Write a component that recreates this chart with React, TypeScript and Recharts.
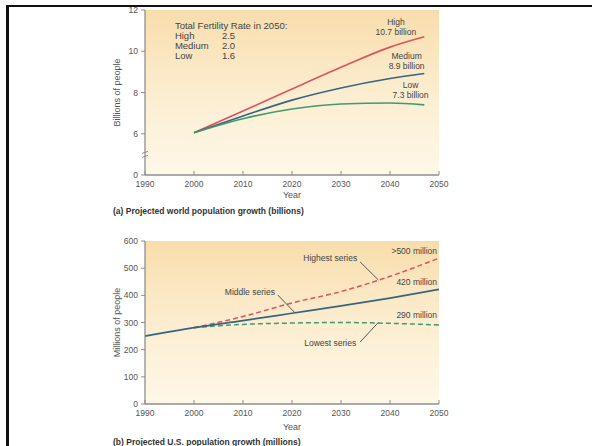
import React from 'react';
import { LineChart, Line, XAxis, YAxis, CartesianGrid, ReferenceDot, ReferenceLine } from 'recharts';

// ---- (a) World population (billions) ----
const worldYears = [2000, 2010, 2020, 2030, 2040, 2047];
const worldHigh = [6.05, 7.1, 8.17, 9.22, 10.2, 10.7];
const worldMedium = [6.05, 6.86, 7.63, 8.22, 8.68, 8.92];
const worldLow = [6.05, 6.73, 7.2, 7.44, 7.49, 7.4];
const worldYTicks = [4, 6, 8, 10, 12];
const worldYTickLabels = ['0', '6', '8', '10', '12'];

// ---- (b) U.S. population (millions) ----
const usYears = [1990, 2000, 2010, 2020, 2030, 2040, 2050];
const usMiddle = [250, 281, 307, 334, 361, 390, 422];
const usHighest = [null, 281, 322, 372, 414, 470, 537];
const usLowest = [null, 281, 293, 298, 300, 297, 291];
const usYTicks = [0, 100, 200, 300, 400, 500, 600];

const xTicks = [1990, 2000, 2010, 2020, 2030, 2040, 2050];

const worldData = worldYears.map((year, i) => ({
  year,
  high: worldHigh[i],
  medium: worldMedium[i],
  low: worldLow[i],
}));
const usData = usYears.map((year, i) => ({
  year,
  middle: usMiddle[i],
  highest: usHighest[i],
  lowest: usLowest[i],
}));

const FONT = '"Liberation Sans", Arial, sans-serif';
const AXIS = '#8f8f8f';
const TXT = '#444';

const RED = '#e0525c';
const BLUE = '#36667f';
const GREEN = '#3f9a72';

const XTick = (props: any) => {
  const { x, y, payload } = props;
  return (
    <g>
      <line x1={x} x2={x} y1={y} y2={y - 4} stroke={AXIS} strokeWidth={1} />
      <text x={x} y={y + 12} textAnchor="middle" fontSize={8.5} fill="#555" fontFamily={FONT}>
        {payload.value}
      </text>
    </g>
  );
};

const yTitle = (title: string) => (p: any) => {
  const vb = p.viewBox;
  const cx = vb.x + 3;
  const cy = vb.y + vb.height / 2;
  return (
    <text
      x={cx}
      y={cy}
      transform={`rotate(-90 ${cx} ${cy})`}
      textAnchor="middle"
      dominantBaseline="middle"
      fontSize={9}
      fill="#555"
      fontFamily={FONT}
    >
      {title}
    </text>
  );
};

const textShape = (lines: string[], anchor: 'start' | 'middle' | 'end', size = 8.5, lh = 10) => (p: any) => (
  <text x={p.cx} y={p.cy} textAnchor={anchor} dominantBaseline="middle" fontSize={size} fill={TXT} fontFamily={FONT}>
    {lines.map((l, i) => (
      <tspan key={i} x={p.cx} dy={i === 0 ? 0 : lh}>
        {l}
      </tspan>
    ))}
  </text>
);

const fertilityShape = (p: any) => {
  const rows = [
    ['High', '2.5'],
    ['Medium', '2.0'],
    ['Low', '1.6'],
  ];
  return (
    <g fontSize={9.5} fill={TXT} fontFamily={FONT}>
      <text x={p.cx} y={p.cy} dominantBaseline="middle">Total Fertility Rate in 2050:</text>
      {rows.map((r, i) => (
        <g key={i}>
          <text x={p.cx} y={p.cy + 10 * (i + 1)} dominantBaseline="middle">{r[0]}</text>
          <text x={p.cx + 47} y={p.cy + 10 * (i + 1)} dominantBaseline="middle">{r[1]}</text>
        </g>
      ))}
    </g>
  );
};

const breakShape = (p: any) => (
  <g stroke={AXIS} strokeWidth={1}>
    <line x1={p.cx - 3} y1={p.cy - 1} x2={p.cx + 3} y2={p.cy - 3} />
    <line x1={p.cx - 3} y1={p.cy + 3} x2={p.cx + 3} y2={p.cy + 1} />
  </g>
);

const Gradient = ({ id }: { id: string }) => (
  <defs>
    <linearGradient id={id} x1="0" y1="0" x2="0" y2="1">
      <stop offset="0%" stopColor="#f8ddac" />
      <stop offset="50%" stopColor="#fcedd0" />
      <stop offset="100%" stopColor="#fef8e8" />
    </linearGradient>
  </defs>
);

export default function App() {
  return (
    <div style={{ position: 'absolute', left: 0, top: 0, width: 592, height: 446, background: '#fff', overflow: 'hidden' }}>
      <div
        style={{
          position: 'absolute',
          left: 6,
          top: 5,
          width: 600,
          height: 460,
          borderTop: '2px solid #111',
          borderLeft: '3px solid #111',
          boxSizing: 'border-box',
        }}
      />
      {/* (a) world */}
      <div style={{ position: 'absolute', left: 0, top: 0 }}>
        <LineChart width={592} height={220} data={worldData} margin={{ top: 10, right: 153, left: 115, bottom: 15 }}>
          <Gradient id="bgA" />
          <CartesianGrid horizontal={false} vertical={false} fill="url(#bgA)" />
          <XAxis
            dataKey="year"
            type="number"
            domain={[1990, 2050]}
            ticks={xTicks}
            height={30}
            tickSize={0}
            tickMargin={0}
            tickLine={false}
            tick={<XTick />}
            axisLine={{ stroke: AXIS, strokeWidth: 1.3 }}
            label={{ value: 'Year', position: 'insideBottom', offset: 7, fontSize: 9, fill: '#555', fontFamily: FONT }}
          />
          <YAxis
            type="number"
            domain={[4, 12]}
            ticks={worldYTicks}
            width={30}
            tickSize={4}
            tickMargin={3}
            tickFormatter={(v: number) => worldYTickLabels[worldYTicks.indexOf(v)]}
            tick={{ fontSize: 8.5, fill: '#555', fontFamily: FONT }}
            tickLine={{ stroke: AXIS }}
            axisLine={{ stroke: AXIS, strokeWidth: 1.3 }}
            label={{ content: yTitle('Billions of people') }}
          />
          <Line dataKey="high" type="monotone" stroke={RED} strokeWidth={1.6} dot={false} isAnimationActive={false} />
          <Line dataKey="medium" type="monotone" stroke={BLUE} strokeWidth={1.6} dot={false} isAnimationActive={false} />
          <Line dataKey="low" type="monotone" stroke={GREEN} strokeWidth={1.6} dot={false} isAnimationActive={false} />
          <ReferenceDot x={1990} y={5} r={0} shape={breakShape} ifOverflow="visible" />
          <ReferenceDot x={1996.1} y={11.18} r={0} shape={fertilityShape} ifOverflow="visible" />
          <ReferenceDot x={2041.2} y={11.37} r={0} shape={textShape(['High', '10.7 billion'], 'middle')} ifOverflow="visible" />
          <ReferenceDot x={2043.4} y={9.72} r={0} shape={textShape(['Medium', '8.9 billion'], 'middle')} ifOverflow="visible" />
          <ReferenceDot x={2044.2} y={8.32} r={0} shape={textShape(['Low', '7.3 billion'], 'middle')} ifOverflow="visible" />
        </LineChart>
      </div>
      <div
        style={{
          position: 'absolute',
          left: 113,
          top: 206,
          fontFamily: FONT,
          fontSize: 8.5,
          fontWeight: 'bold',
          color: '#333',
          whiteSpace: 'nowrap',
        }}
      >
        (a) Projected world population growth (billions)
      </div>

      {/* (b) US */}
      <div style={{ position: 'absolute', left: 0, top: 220 }}>
        <LineChart width={592} height={226} data={usData} margin={{ top: 21, right: 153, left: 115, bottom: 12 }}>
          <Gradient id="bgB" />
          <CartesianGrid horizontal={false} vertical={false} fill="url(#bgB)" />
          <XAxis
            dataKey="year"
            type="number"
            domain={[1990, 2050]}
            ticks={xTicks}
            height={30}
            tickSize={0}
            tickMargin={0}
            tickLine={false}
            tick={<XTick />}
            axisLine={{ stroke: AXIS, strokeWidth: 1.3 }}
            label={{ value: 'Year', position: 'insideBottom', offset: 4, fontSize: 9, fill: '#555', fontFamily: FONT }}
          />
          <YAxis
            type="number"
            domain={[0, 600]}
            ticks={usYTicks}
            width={30}
            tickSize={4}
            tickMargin={3}
            tick={{ fontSize: 8.5, fill: '#555', fontFamily: FONT }}
            tickLine={{ stroke: AXIS }}
            axisLine={{ stroke: AXIS, strokeWidth: 1.3 }}
            label={{ content: yTitle('Millions of people') }}
          />
          <Line dataKey="lowest" type="monotone" stroke={GREEN} strokeWidth={1.5} strokeDasharray="5 3" dot={false} isAnimationActive={false} />
          <Line dataKey="highest" type="monotone" stroke={RED} strokeWidth={1.5} strokeDasharray="5 3" dot={false} isAnimationActive={false} />
          <Line dataKey="middle" type="monotone" stroke={BLUE} strokeWidth={1.7} dot={false} isAnimationActive={false} />
          <ReferenceLine segment={[{ x: 2033.9, y: 523 }, { x: 2037.6, y: 457 }]} stroke="#555" strokeWidth={1} />
          <ReferenceLine segment={[{ x: 2033.9, y: 228 }, { x: 2037.6, y: 300 }]} stroke="#555" strokeWidth={1} />
          <ReferenceLine segment={[{ x: 2017.1, y: 401 }, { x: 2020.6, y: 336 }]} stroke="#555" strokeWidth={1} />
          <ReferenceDot x={2027.8} y={534} r={0} shape={textShape(['Highest series'], 'middle')} ifOverflow="visible" />
          <ReferenceDot x={2027.8} y={221} r={0} shape={textShape(['Lowest series'], 'middle')} ifOverflow="visible" />
          <ReferenceDot x={2011.4} y={409} r={0} shape={textShape(['Middle series'], 'middle')} ifOverflow="visible" />
          <ReferenceDot x={2049.6} y={560} r={0} shape={textShape(['>500 million'], 'end')} ifOverflow="visible" />
          <ReferenceDot x={2049.6} y={445} r={0} shape={textShape(['420 million'], 'end')} ifOverflow="visible" />
          <ReferenceDot x={2049.6} y={324} r={0} shape={textShape(['290 million'], 'end')} ifOverflow="visible" />
        </LineChart>
      </div>
      <div
        style={{
          position: 'absolute',
          left: 113,
          top: 437,
          fontFamily: FONT,
          fontSize: 8.5,
          fontWeight: 'bold',
          color: '#333',
          whiteSpace: 'nowrap',
        }}
      >
        (b) Projected U.S. population growth (millions)
      </div>
    </div>
  );
}
